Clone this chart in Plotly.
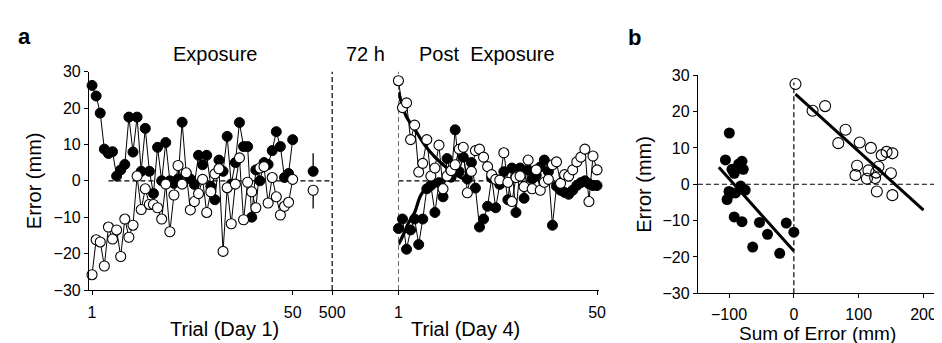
import plotly.graph_objects as go

# ---------------- data ----------------
trials = list(range(1, 51))

exp_filled = [26.2, 23.3, 18.6, 8.7, 7.5, 8.0, 1.3, 3.0, 4.5, 17.5,
              7.9, 17.5, 2.6, 14.4, 2.6, -3.5, 9.2, 0.0, 10.5, 0.0,
              -0.7, 0.5, 16.1, 2.0, 0.5, -1.0, 7.0, 4.4, 7.0, -1.5,
              -5.2, 5.7, 2.6, 12.2, -0.9, 5.0, 16.0, 9.4, 9.4, -10.0,
              3.0, 0.0, 5.0, 4.5, 8.3, 13.5, 9.4, 0.9, 2.0, 11.3]
exp_open = [-25.8, -16.2, -16.8, -23.4, -12.7, -16.0, -13.5, -20.8, -10.5, -15.5,
            -12.2, 1.3, -7.9, -2.2, -6.5, -6.5, -7.4, -10.5, -0.9, -14.0,
            -3.9, 4.2, -0.9, 2.2, -8.0, -5.7, -3.5, 0.4, -8.7, -3.0,
            1.9, 3.3, -19.4, -1.9, -11.8, -0.9, 6.3, -10.7, -0.4, -3.0,
            -7.4, 3.5, 3.9, -6.1, 0.9, -4.4, -9.4, -7.0, -5.9, 0.4]

# mean +/- error at end of day 1 (plotted after trial 50)
mean_pos = [55]
mean_filled = [2.6]
mean_open = [-2.6]
mean_err = [5.0]

post_filled = [-13.1, -10.5, -18.8, -13.5, -10.5, -17.5, -10.5, -2.2, -1.3, -8.7,
               -0.5, -4.4, 6.1, 1.0, 14.0, 2.5, 6.5, 0.5, 5.0, -2.0,
               -12.7, -10.5, -7.0, 0.8, -7.4, -1.0, 2.5, -5.2, 3.5, -8.7,
               3.5, -4.8, 3.0, 0.5, 1.5, 3.8, 5.7, 2.5, -12.2, -1.5,
               -2.6, -3.2, -3.7, -2.6, -1.3, -0.5, 0.0, -0.8, -1.3, -1.3]
post_open = [27.5, 20.1, 21.4, 11.3, 15.3, 2.4, 4.8, 11.3, 1.3, 3.5,
             9.8, -2.2, 1.3, 2.8, 4.4, 8.7, 9.2, -3.3, 2.6, 8.3,
             8.7, 6.5, 3.9, 1.7, 0.4, 0.2, 7.7, -0.4, -5.7, 0.9,
             1.3, -1.6, 5.7, -2.2, 3.0, -2.6, -0.4, 0.4, 4.4, 5.2,
             -0.7, 1.7, 1.3, 3.0, 5.2, 6.5, 8.7, -5.7, 6.8, 3.0]

# thick fitted curves (post exposure)
fit_open_t = [1, 2, 3, 5, 7.5, 10, 13, 15.5, 18]
fit_open_v = [24.4, 20.5, 17.5, 14.2, 9.8, 6.5, 3.5, 1.5, 0.0]
fit_filled_t = [1, 2, 3.5, 5, 6.5, 8.5, 10]
fit_filled_v = [-17.5, -15.3, -11.5, -8.7, -4.0, -1.3, -0.9]

# panel b: error vs sum of error
b_filled_x = [-105.5, -99.5, -95.5, -92, -85, -80, -78, -103, -100, -95,
              -90, -75, -82, -92, -80, -53, -40.6, -63.5, -21.8, -11.7, 0]
b_filled_y = [6.7, 14.1, 4.1, 3.0, 5.6, 6.3, 4.1, -4.2, -2.0, -2.4,
              -2.4, -1.6, -0.5, -9.0, -10.3, -10.5, -13.8, -17.3, -19.0, -10.7, -13.2]
b_open_x = [2.5, 28.9, 48.2, 79.7, 68.5, 101.5, 118.8, 135.5, 143, 152,
            97.5, 95, 115, 130.5, 127, 112.7, 125.4, 149.7, 128, 152]
b_open_y = [27.6, 20.2, 21.5, 15.0, 11.3, 11.5, 10.0, 8.0, 8.9, 8.5,
            5.1, 2.5, 3.8, 4.8, 3.2, 1.5, 1.7, 3.0, -2.0, -3.0]
b_fit_filled_x = [-115.7, 0]
b_fit_filled_y = [4.7, -18.4]
b_fit_open_x = [2.5, 200]
b_fit_open_y = [24.8, -7.1]

y_ticks = [-30, -20, -10, 0, 10, 20, 30]
exp_tickvals = [1, 50, 59.65]
exp_ticktext = ["1", "50", "500"]
post_tickvals = [1, 50]
post_ticktext = ["1", "50"]
b_xticks = [-100, 0, 100, 200]

# ---------------- layout helpers ----------------
W, H = 942, 343
def fx(px):
    return px / W
def fy(py):
    return 1 - py / H

FONT = "Liberation Sans, Arial, Helvetica, sans-serif"
TICKF = dict(family=FONT, size=16, color="black")

fig = go.Figure()

mk_f = dict(size=10, color="black", line=dict(color="black", width=1))
mk_o = dict(size=10, color="white", line=dict(color="black", width=1.1))
thin = dict(color="black", width=1)

# exposure
fig.add_trace(go.Scatter(x=trials, y=exp_filled, mode="lines+markers", marker=mk_f,
                         line=thin, xaxis="x", yaxis="y", cliponaxis=False))
fig.add_trace(go.Scatter(x=trials, y=exp_open, mode="lines+markers", marker=mk_o,
                         line=thin, xaxis="x", yaxis="y", cliponaxis=False))
fig.add_trace(go.Scatter(x=mean_pos, y=mean_filled, mode="markers", marker=mk_f,
                         error_y=dict(type="data", array=mean_err, arrayminus=[0], color="black",
                                      thickness=1.3, width=0),
                         xaxis="x", yaxis="y", cliponaxis=False))
fig.add_trace(go.Scatter(x=mean_pos, y=mean_open, mode="markers", marker=mk_o,
                         error_y=dict(type="data", array=[0], arrayminus=mean_err, color="black",
                                      thickness=1.3, width=0),
                         xaxis="x", yaxis="y", cliponaxis=False))

# post exposure
fig.add_trace(go.Scatter(x=fit_open_t, y=fit_open_v, mode="lines",
                         line=dict(color="black", width=3.2, shape="spline"),
                         xaxis="x2", yaxis="y", cliponaxis=False))
fig.add_trace(go.Scatter(x=fit_filled_t, y=fit_filled_v, mode="lines",
                         line=dict(color="black", width=3.2, shape="spline"),
                         xaxis="x2", yaxis="y", cliponaxis=False))
fig.add_trace(go.Scatter(x=trials, y=post_filled, mode="lines+markers", marker=mk_f,
                         line=thin, xaxis="x2", yaxis="y", cliponaxis=False))
fig.add_trace(go.Scatter(x=trials, y=post_open, mode="lines+markers", marker=mk_o,
                         line=thin, xaxis="x2", yaxis="y", cliponaxis=False))

# panel b
fig.add_trace(go.Scatter(x=b_filled_x, y=b_filled_y, mode="markers", marker=dict(size=11, color="black"),
                         xaxis="x3", yaxis="y2", cliponaxis=False))
fig.add_trace(go.Scatter(x=b_open_x, y=b_open_y, mode="markers",
                         marker=dict(size=11, color="rgba(255,255,255,0)", line=dict(color="black", width=1.1)),
                         xaxis="x3", yaxis="y2", cliponaxis=False))
fig.add_trace(go.Scatter(x=b_fit_filled_x, y=b_fit_filled_y, mode="lines",
                         line=dict(color="black", width=3), xaxis="x3", yaxis="y2", cliponaxis=False))
fig.add_trace(go.Scatter(x=b_fit_open_x, y=b_fit_open_y, mode="lines",
                         line=dict(color="black", width=3), xaxis="x3", yaxis="y2", cliponaxis=False))

dash = dict(color="black", width=1.2, dash="5px,3px")
shapes = [
    dict(type="line", xref="x", yref="y", x0=5, x1=59.4, y0=0, y1=0, line=dash, layer="below"),
    dict(type="line", xref="x", yref="y", x0=59.65, x1=59.65, y0=-30, y1=30, line=dash, layer="below"),
    dict(type="line", xref="x2", yref="y", x0=1, x1=1, y0=-30, y1=30, line=dash, layer="below"),
    dict(type="line", xref="x2", yref="y", x0=1, x1=50, y0=0, y1=0, line=dash, layer="below"),
    dict(type="line", xref="x3", yref="y2", x0=-148, x1=227, y0=0, y1=0, line=dash, layer="below"),
    dict(type="line", xref="x3", yref="y2", x0=0, x1=0, y0=-30, y1=28, line=dash, layer="below"),
]

axis_common = dict(showgrid=False, zeroline=False, showline=True, linecolor="black", linewidth=1.3,
                   ticks="outside", ticklen=4, tickwidth=1.2, tickcolor="black", tickfont=TICKF)

fig.update_layout(
    width=W, height=H, margin=dict(l=0, r=0, t=0, b=0),
    paper_bgcolor="white", plot_bgcolor="white", showlegend=False,
    xaxis=dict(domain=[fx(78), fx(391)], range=[0.276, 75.83], anchor="y",
               tickmode="array", tickvals=exp_tickvals, ticktext=exp_ticktext,
               ticklabelstandoff=4, **axis_common),
    xaxis2=dict(domain=[fx(391), fx(594)], range=[1, 50.5], anchor="y",
                tickmode="array", tickvals=post_tickvals, ticktext=post_ticktext,
                ticklabelstandoff=4, **axis_common),
    yaxis=dict(domain=[fy(288.3), fy(58.5)], range=[-30, 30], anchor="x",
               tickmode="array", tickvals=y_ticks, **axis_common),
    xaxis3=dict(domain=[fx(694), fx(940)], range=[-148, 227], anchor="y2",
                tickmode="array", tickvals=b_xticks, ticklabelstandoff=2, **axis_common),
    yaxis2=dict(domain=[fy(291.7), fy(62.3)], range=[-30, 30], anchor="x3",
                tickmode="array", tickvals=y_ticks, **axis_common),
    shapes=shapes,
)

def ann(text, px, py, size=20, bold=False, angle=0):
    t = f"<b>{text}</b>" if bold else text
    fig.add_annotation(text=t, x=fx(px), y=fy(py), xref="paper", yref="paper",
                       showarrow=False, textangle=angle, xanchor="center", yanchor="middle",
                       font=dict(family=FONT, size=size, color="black"))

ann("a", 13, 22, size=22, bold=True)
ann("b", 630, 23, size=22, bold=True)
ann("Exposure", 206, 40)
ann("72 h", 358, 40)
ann("Post\u00a0 Exposure", 481, 40)
ann("Trial (Day 1)", 215, 329)
ann("Trial (Day 4)", 459, 329)
ann("Sum of Error (mm)", 815, 334, size=19)
ann("Error (mm)", 23, 173, angle=-90)
ann("Error (mm)", 640, 177, angle=-90)

fig.write_html("out.html")
